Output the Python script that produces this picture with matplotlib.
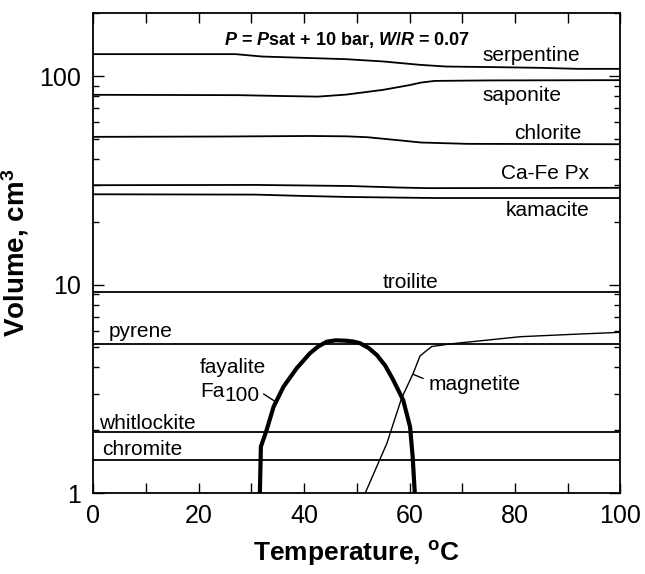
import matplotlib
matplotlib.use("Agg")
import matplotlib.pyplot as plt
from matplotlib.ticker import FixedLocator, LogLocator, NullFormatter

plt.rcParams["font.family"] = ["Liberation Sans", "DejaVu Sans"]
plt.rcParams["mathtext.fontset"] = "custom"
plt.rcParams["mathtext.rm"] = "Liberation Sans:bold"
plt.rcParams["mathtext.it"] = "Liberation Sans:italic:bold"
plt.rcParams["mathtext.bf"] = "Liberation Sans:bold"

# mineral volumes (cm3) vs temperature (C)
serp_t = [0, 27, 32, 40, 48, 55, 62, 67, 76, 85, 92, 100]
serp_v = [127.4, 127.4, 124.1, 122.3, 120.5, 117.5, 113.2, 111.1, 110.4, 109.5, 108.3, 108.3]

sapo_t = [0, 27.5, 35, 42.6, 48, 55, 60, 62.2, 64.8, 75, 100]
sapo_v = [81.3, 81.0, 80.3, 79.7, 81.5, 85.9, 90.5, 93.1, 94.8, 95.3, 95.6]

chlo_t = [0, 25, 41, 48, 52, 58, 62.2, 71, 100]
chlo_v = [51.1, 51.3, 51.6, 51.4, 50.9, 49.2, 48.0, 47.3, 47.1]

cpx_t = [0, 30.8, 48.5, 58, 63.5, 100]
cpx_v = [29.96, 30.05, 29.7, 29.2, 29.0, 29.1]

kama_t = [0, 30.8, 40, 48.5, 64.8, 100]
kama_v = [27.1, 27.0, 26.6, 26.3, 26.0, 26.0]

flat_t = [0, 100]
troilite_v = 9.25
pyrene_v = 5.19
whitlockite_v = 1.96
chromite_v = 1.44

fa_t = [31.6, 31.8, 32.9, 34.2, 36.1, 38.6, 41.1, 42.7, 44.3, 46.0, 47.8, 49.3,
        50.6, 52.2, 53.8, 55.4, 56.9, 58.8, 60.1, 60.6, 61.0]
fa_v = [1.0, 1.67, 2.01, 2.59, 3.24, 3.97, 4.68, 5.05, 5.32, 5.40, 5.38, 5.33,
        5.23, 4.97, 4.59, 4.08, 3.49, 2.79, 2.08, 1.49, 1.0]

mag_t = [51.6, 55.7, 58.5, 60.7, 62.0, 64.2, 67.7, 81, 91, 100]
mag_v = [1.0, 1.73, 2.85, 3.75, 4.55, 5.04, 5.19, 5.62, 5.77, 5.9]

fig = plt.figure(figsize=(6.45, 5.74), dpi=100)
ax = fig.add_axes([0.1447, 0.1411, 0.8170, 0.8357])

thin = dict(color="black", lw=1.3, solid_capstyle="butt")
ax.plot(serp_t, serp_v, **thin)
ax.plot(sapo_t, sapo_v, **thin)
ax.plot(chlo_t, chlo_v, **thin)
ax.plot(cpx_t, cpx_v, **thin)
ax.plot(kama_t, kama_v, **thin)
for v in (troilite_v, pyrene_v, whitlockite_v, chromite_v):
    ax.plot(flat_t, [v, v], **thin)
ax.plot(mag_t, mag_v, color="black", lw=1.0)
ax.plot(fa_t, fa_v, color="black", lw=3.0, solid_joinstyle="round")

ax.set_yscale("log")
ax.set_xlim(0, 100)
ax.set_ylim(1, 200)

# labels
lab = dict(fontsize=15, va="baseline", ha="left")
ax.text(73.9, 118.3, "serpentine", **lab)
ax.text(73.9, 76.3, "saponite", **lab)
ax.text(79.9, 50.1, "chlorite", **lab)
ax.text(77.3, 32.0, "Ca-Fe Px", **lab)
ax.text(78.3, 21.3, "kamacite", **lab)
ax.text(54.9, 9.67, "troilite", **lab)
ax.text(2.9, 5.62, "pyrene", **lab)
ax.text(20.2, 3.78, "fayalite", **lab)
ax.text(20.2, 2.90, "Fa", **lab)
ax.text(1.0, 2.02, "whitlockite", **lab)
ax.text(1.6, 1.52, "chromite", **lab)

ax.annotate("100", xy=(34.5, 2.75), xytext=(24.9, 2.77),
            fontsize=15, va="baseline", ha="left",
            arrowprops=dict(arrowstyle="-", color="black", lw=1.0,
                            relpos=(1.0, 0.7), shrinkA=1, shrinkB=0))
ax.annotate("magnetite", xy=(60.8, 3.7), xytext=(63.6, 3.12),
            fontsize=15, va="baseline", ha="left",
            arrowprops=dict(arrowstyle="-", color="black", lw=1.0,
                            relpos=(0.0, 0.7), shrinkA=2, shrinkB=0))

ax.text(0.482, 0.965, r"$\it{P}$ = $\it{P}$sat + 10 bar, $\it{W/R}$ = 0.07",
        transform=ax.transAxes, ha="center", va="top",
        fontsize=13, fontweight="bold")

# ticks
ax.xaxis.set_major_locator(FixedLocator([0, 20, 40, 60, 80, 100]))
ax.xaxis.set_minor_locator(FixedLocator([10, 30, 50, 70, 90]))
ax.set_yticks([1, 10, 100])
ax.set_yticklabels(["1", "10", "100"])
ax.yaxis.set_minor_locator(LogLocator(base=10, subs=range(2, 10)))
ax.yaxis.set_minor_formatter(NullFormatter())
ax.tick_params(which="both", direction="in", top=True, right=True,
               width=1.0, labelsize=18)
ax.tick_params(axis="x", which="both", length=7, pad=8)
ax.tick_params(axis="y", which="major", length=8, pad=9)
ax.tick_params(axis="y", which="minor", length=4)
for s in ax.spines.values():
    s.set_linewidth(1.3)

ax.set_xlabel(r"Temperature, $^{\mathrm{o}}$C", fontsize=19, fontweight="bold", labelpad=8)
ax.set_ylabel(r"Volume, cm$^{\mathrm{3}}$", fontsize=20, fontweight="bold", labelpad=6)

fig.savefig("out.png", dpi=100)
